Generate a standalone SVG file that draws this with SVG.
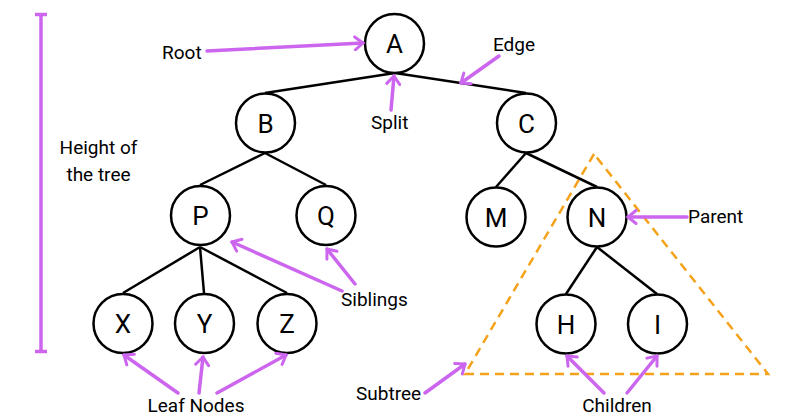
<svg xmlns="http://www.w3.org/2000/svg" width="800" height="419" viewBox="0 0 800 419">
<defs>
<marker id="ah" markerUnits="userSpaceOnUse" markerWidth="14" markerHeight="16" refX="11" refY="8" orient="auto">
<path d="M3,1.5 L11,8 L3,14.5" fill="none" stroke="#cc66ee" stroke-width="3" stroke-linecap="round" stroke-linejoin="round"/>
</marker>
</defs>
<style>
.node circle{fill:#fff;stroke:#000;stroke-width:2.5}
.node text{font-family:Roboto,"Liberation Sans",sans-serif;font-size:26px;fill:#000;text-anchor:middle}
.edge{stroke:#000;stroke-width:2.5;fill:none}
.ann{stroke:#cc66ee;stroke-width:3.5;fill:none;stroke-linecap:round;marker-end:url(#ah)}
.lbl{font-family:Roboto,"Liberation Sans",sans-serif;font-size:19px;fill:#000}
</style>
<rect width="800" height="419" fill="#fff"/>

<g id="height-bar" stroke="#cc66ee" stroke-width="3.5" fill="none">
<line x1="41" y1="14" x2="41" y2="352"/>
<line x1="35" y1="14.5" x2="47" y2="14.5"/>
<line x1="35" y1="351.5" x2="47" y2="351.5"/>
</g>
<text class="lbl" x="98.5" y="154" text-anchor="middle">Height of</text>
<text class="lbl" x="98.5" y="181" text-anchor="middle">the tree</text>

<g id="subtree-outline">
<polygon points="594,154 465,374 768,374" fill="none" stroke="#f5a21b" stroke-width="2.5" stroke-dasharray="9 6"/>
</g>

<g id="connectors">
<line class="edge" x1="395" y1="73" x2="265" y2="93"/>
<line class="edge" x1="395" y1="73" x2="526" y2="93"/>
<line class="edge" x1="265" y1="153" x2="200" y2="185"/>
<line class="edge" x1="265" y1="153" x2="326" y2="185"/>
<line class="edge" x1="526" y1="153" x2="496" y2="187"/>
<line class="edge" x1="526" y1="153" x2="597" y2="187"/>
<line class="edge" x1="200" y1="247" x2="123" y2="293"/>
<line class="edge" x1="200" y1="247" x2="204" y2="293"/>
<line class="edge" x1="200" y1="247" x2="287" y2="293"/>
<line class="edge" x1="597" y1="247" x2="566" y2="294"/>
<line class="edge" x1="597" y1="247" x2="657" y2="294"/>
</g>

<g id="node-A" class="node"><circle cx="394.5" cy="43.5" r="29.5"/><text x="394.5" y="53">A</text></g>
<g id="node-B" class="node"><circle cx="265.5" cy="123" r="29.5"/><text x="265.5" y="132.5">B</text></g>
<g id="node-C" class="node"><circle cx="526.5" cy="123" r="29.5"/><text x="526.5" y="132.5">C</text></g>
<g id="node-P" class="node"><circle cx="200.5" cy="215.5" r="29.5"/><text x="200.5" y="225">P</text></g>
<g id="node-Q" class="node"><circle cx="326" cy="215.5" r="29.5"/><text x="326" y="225">Q</text></g>
<g id="node-M" class="node"><circle cx="496" cy="217" r="29.5"/><text x="496" y="226.5">M</text></g>
<g id="node-N" class="node"><circle cx="597" cy="217" r="29.5"/><text x="597" y="226.5">N</text></g>
<g id="node-X" class="node"><circle cx="123" cy="323.5" r="29.5"/><text x="123" y="333">X</text></g>
<g id="node-Y" class="node"><circle cx="204.5" cy="323.5" r="29.5"/><text x="204.5" y="333">Y</text></g>
<g id="node-Z" class="node"><circle cx="287" cy="323.5" r="29.5"/><text x="287" y="333">Z</text></g>
<g id="node-H" class="node"><circle cx="566" cy="324" r="29.5"/><text x="566" y="333.5">H</text></g>
<g id="node-I" class="node"><circle cx="657.5" cy="324" r="29.5"/><text x="657.5" y="333.5">I</text></g>

<g id="annotations">
<line class="ann" x1="207" y1="51" x2="363" y2="43"/>
<line class="ann" x1="391" y1="110" x2="394" y2="76"/>
<line class="ann" x1="499" y1="56" x2="461" y2="83"/>
<line class="ann" x1="342" y1="291" x2="232" y2="242"/>
<line class="ann" x1="355" y1="284" x2="327" y2="249"/>
<line class="ann" x1="687" y1="217" x2="628" y2="217"/>
<line class="ann" x1="178" y1="393" x2="124" y2="355"/>
<line class="ann" x1="199" y1="393" x2="203" y2="357"/>
<line class="ann" x1="217" y1="393" x2="286" y2="355"/>
<line class="ann" x1="425" y1="393" x2="465" y2="364"/>
<line class="ann" x1="604" y1="393" x2="567" y2="356"/>
<line class="ann" x1="627" y1="393" x2="657" y2="356"/>
</g>

<text class="lbl" x="162" y="59">Root</text>
<text class="lbl" x="493" y="51">Edge</text>
<text class="lbl" x="371" y="129">Split</text>
<text class="lbl" x="341" y="306">Siblings</text>
<text class="lbl" x="688" y="223">Parent</text>
<text class="lbl" x="196" y="412" text-anchor="middle">Leaf Nodes</text>
<text class="lbl" x="356" y="400">Subtree</text>
<text class="lbl" x="617" y="412" text-anchor="middle">Children</text>
</svg>
